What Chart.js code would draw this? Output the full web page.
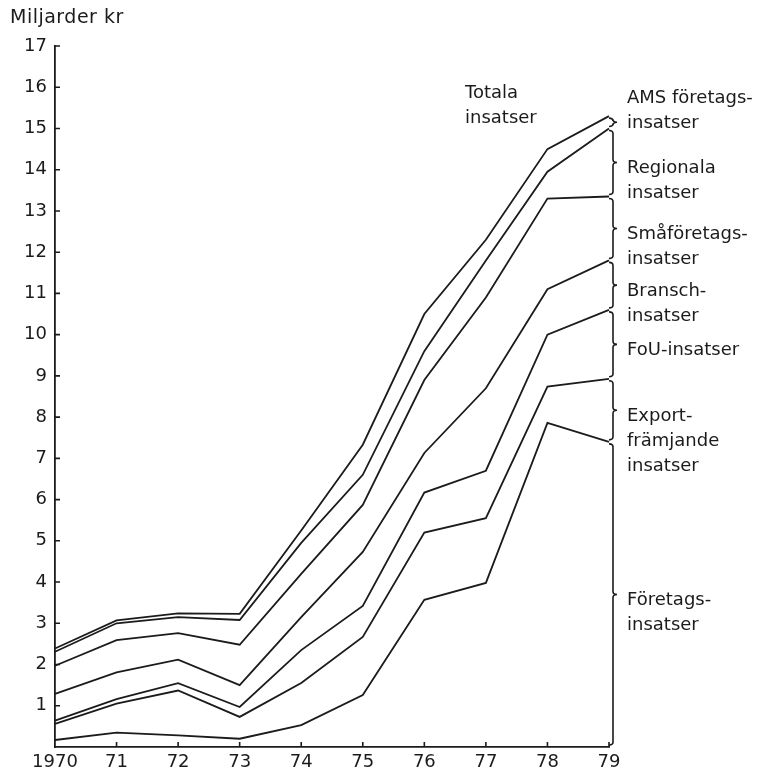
<!DOCTYPE html>
<html>
<head>
<meta charset="utf-8">
<script src="https://cdn.jsdelivr.net/npm/chart.js@4/dist/chart.umd.min.js"></script>
<style>
    html, body { margin: 0; padding: 0; background: #fff; }
    #wrap { width: 771px; height: 772px; }
</style>
</head>
<body>
<div id="wrap"><canvas id="chart"></canvas></div>
<script>
    const years = ["1970", "71", "72", "73", "74", "75", "76", "77", "78", "79"];

    // Miljarder kr per year, each category stacked on the one below
    const foretags = [0.17, 0.35, 0.28, 0.20, 0.53, 1.26, 3.57, 3.98, 7.86, 7.40];
    const exportFramjande = [0.39, 0.70, 1.09, 0.53, 1.02, 1.41, 1.63, 1.57, 0.88, 1.53];
    const fou = [0.08, 0.11, 0.18, 0.24, 0.80, 0.75, 0.97, 1.15, 1.26, 1.67];
    const bransch = [0.65, 0.65, 0.57, 0.53, 0.80, 1.31, 0.96, 2.00, 1.10, 1.20];
    const smaforetags = [0.68, 0.78, 0.64, 0.98, 1.05, 1.14, 1.77, 2.20, 2.20, 1.55];
    const regionala = [0.34, 0.41, 0.39, 0.60, 0.75, 0.73, 0.70, 0.90, 0.65, 1.65];
    const ams = [0.08, 0.07, 0.09, 0.15, 0.30, 0.73, 0.90, 0.50, 0.55, 0.30];

    const seriesNames = ["Företagsinsatser", "Exportfrämjande insatser", "FoU-insatser",
        "Branschinsatser", "Småföretagsinsatser", "Regionala insatser", "AMS företagsinsatser"];
    const seriesData = [foretags, exportFramjande, fou, bransch, smaforetags, regionala, ams];
    const braceLabels = [
        ["Företags-", "insatser"],
        ["Export-", "främjande", "insatser"],
        ["FoU-insatser"],
        ["Bransch-", "insatser"],
        ["Småföretags-", "insatser"],
        ["Regionala", "insatser"],
        ["AMS företags-", "insatser"]
    ];
    const yMax = 17;

    const ink = "#1b1b1b";
    const fontFamily = "'DejaVu Sans', sans-serif";

    // tick marks inside the axes, braces and texts on the right
    const decorations = {
        id: "decorations",
        afterDraw(chart) {
            const { ctx, chartArea: a, scales: { x, y } } = chart;
            ctx.save();
            ctx.strokeStyle = ink;
            ctx.lineWidth = 1.6;
            ctx.beginPath();
            for (let v = 1; v <= yMax; v++) {
                const py = y.getPixelForValue(v);
                ctx.moveTo(a.left, py);
                ctx.lineTo(a.left + 5, py);
            }
            years.forEach((yr, i) => {
                if (i === 0) return;
                const px = x.getPixelForValue(i);
                ctx.moveTo(px, a.bottom);
                ctx.lineTo(px, a.bottom - 5);
            });
            ctx.stroke();

            // braces
            const bx = a.right + 4;
            const h = 3;
            ctx.fillStyle = ink;
            ctx.font = "18px " + fontFamily;
            ctx.textBaseline = "middle";
            ctx.textAlign = "left";
            let below = y.getPixelForValue(0);
            seriesData.forEach((d, i) => {
                const meta = chart.getDatasetMeta(i);
                const top = meta.data[meta.data.length - 1].y + 2;
                const bot = below - 2;
                const mid = (top + bot) / 2;
                ctx.beginPath();
                ctx.moveTo(bx - 4, top);
                ctx.quadraticCurveTo(bx, top, bx, top + h);
                ctx.lineTo(bx, mid - h);
                ctx.quadraticCurveTo(bx, mid, bx + 4, mid);
                ctx.quadraticCurveTo(bx, mid, bx, mid + h);
                ctx.lineTo(bx, bot - h);
                ctx.quadraticCurveTo(bx, bot, bx - 4, bot);
                ctx.stroke();

                const lines = braceLabels[i];
                const first = i === seriesData.length - 1 ? mid - 24 : mid + 6;
                lines.forEach((t, k) => ctx.fillText(t, a.right + 18, first + k * 25));
                below = meta.data[meta.data.length - 1].y;
            });

            ctx.fillText("Totala", 465, 93);
            ctx.fillText("insatser", 465, 118);

            ctx.font = "19px " + fontFamily;
            ctx.letterSpacing = "0.5px";
            ctx.fillText("Miljarder kr", 10, 18);
            ctx.restore();
        }
    };

    new Chart(document.getElementById("chart"), {
        type: "line",
        data: {
            labels: years,
            datasets: seriesData.map((d, i) => ({
                label: seriesNames[i],
                data: d,
                borderColor: ink,
                borderWidth: 1.8,
                pointRadius: 0,
                fill: false,
                tension: 0
            }))
        },
        options: {
            responsive: true,
            maintainAspectRatio: false,
            animation: false,
            layout: { padding: { top: 46, right: 162, bottom: 0, left: 0 } },
            plugins: {
                legend: { display: false },
                tooltip: { enabled: false }
            },
            scales: {
                x: {
                    offset: false,
                    grid: { display: false, drawTicks: false },
                    border: { display: true, color: ink, width: 1.8 },
                    ticks: {
                        color: ink,
                        padding: 5,
                        maxRotation: 0,
                        autoSkip: false,
                        font: { family: fontFamily, size: 18 }
                    },
                    afterFit: (s) => { s.height = 25; }
                },
                y: {
                    stacked: true,
                    min: 0,
                    max: yMax,
                    grid: { display: false, drawTicks: false },
                    border: { display: true, color: ink, width: 1.8 },
                    ticks: {
                        stepSize: 1,
                        color: ink,
                        padding: 8,
                        font: { family: fontFamily, size: 18 },
                        callback: (v) => (v === 0 ? "" : v)
                    },
                    afterFit: (s) => { s.width = 55; }
                }
            }
        },
        plugins: [decorations]
    });
</script>
</body>
</html>
